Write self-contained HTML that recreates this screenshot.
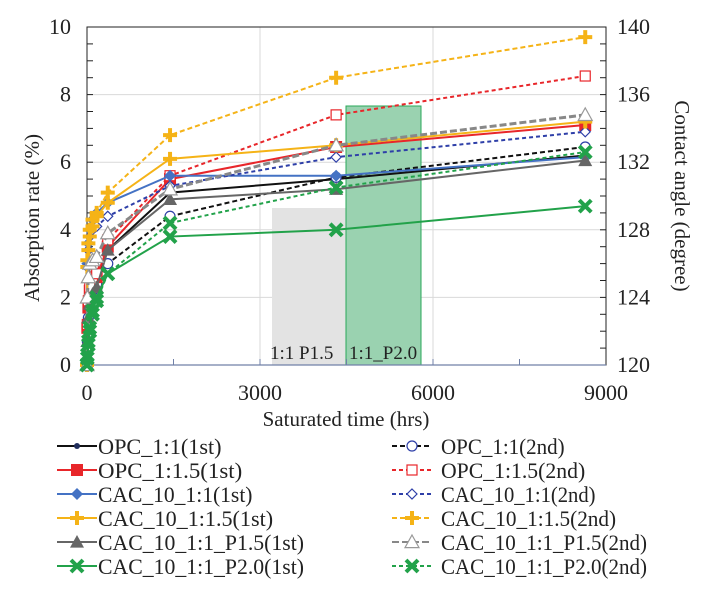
<!DOCTYPE html>
<html><head><meta charset="utf-8"><style>
html,body{margin:0;padding:0;background:#fff;width:718px;height:600px;overflow:hidden}
svg text{font-family:"Liberation Serif",serif;fill:#222}
</style></head><body>
<svg id="s" width="718" height="600" xmlns="http://www.w3.org/2000/svg"></svg>
<script>
const S=document.getElementById('s');let h='';
const X0=87,X1=606,Y0=365,Y1=27;
const X=t=>X0+(t/9000)*(X1-X0), Y=v=>Y0-(v/10)*(Y0-Y1);
for(let v=2;v<=10;v+=2)h+=`<line x1="${X0}" x2="${X1}" y1="${Y(v)}" y2="${Y(v)}" stroke="#d9d9d9" stroke-width="1"/>`;
for(let t=3000;t<9000;t+=3000)h+=`<line x1="${X(t)}" x2="${X(t)}" y1="${Y1}" y2="${Y0}" stroke="#d9d9d9" stroke-width="1"/>`;
h+=`<rect x="272" y="208" width="74" height="${Y0-208}" fill="#e3e3e3"/>`;
h+=`<rect x="346" y="106" width="75" height="${Y0-106}" fill="#9ad2b0" stroke="#2aa85a" stroke-width="1"/>`;
h+=`<text x="270" y="359" font-size="19">1:1  P1.5</text><text x="349" y="359" font-size="19">1:1_P2.0</text>`;
h+=`<rect x="${X0}" y="${Y1}" width="${X1-X0}" height="${Y0-Y1}" fill="none" stroke="#222" stroke-width="1"/>`;
h+=`<line x1="${X0}" x2="${X1}" y1="${Y0}" y2="${Y0}" stroke="#7080a8" stroke-width="1.3"/>`;
for(let v=0.5;v<10;v+=0.5)h+=`<line x1="${X0}" x2="${X0+6}" y1="${Y(v)}" y2="${Y(v)}" stroke="#222"/>`;
for(let d=1;d<20;d++){let y=Y0-d*(Y0-Y1)/20;h+=`<line x1="${X1-6}" x2="${X1}" y1="${y}" y2="${y}" stroke="#222"/>`;}
for(let t=1500;t<9000;t+=1500)h+=`<line x1="${X(t)}" x2="${X(t)}" y1="${Y0}" y2="${Y0-6}" stroke="#7080a8"/>`;
for(let v=0;v<=10;v+=2)h+=`<text x="71" y="${Y(v)+7}" font-size="22" text-anchor="end">${v}</text>`;
for(let i=0;i<=5;i++){let y=Y0-i*(Y0-Y1)/5;h+=`<text x="617" y="${y+7}" font-size="22">${120+4*i}</text>`;}
[0,3000,6000,9000].forEach(t=>h+=`<text x="${X(t)}" y="400" font-size="22" text-anchor="middle">${t}</text>`);
h+=`<text x="346" y="426" font-size="21" text-anchor="middle">Saturated time (hrs)</text>`;
h+=`<text transform="translate(39,218) rotate(-90)" font-size="21" text-anchor="middle">Absorption rate (%)</text>`;
h+=`<text transform="translate(675,196) rotate(90)" font-size="21" text-anchor="middle">Contact angle (degree)</text>`;
const T=[0,6,24,48,96,168,360,1440,4320,8640];
const ser=[
['OPC_1:1(1st)','#111','','circle',[0,0.8,1.6,2.1,2.4,2.6,3.4,5.1,5.5,6.2]],
['OPC_1:1(2nd)','#111','5,3','ocircle',[0,0.7,1.4,1.9,2.2,2.4,3.0,4.4,5.55,6.45]],
['OPC_1:1.5(1st)','#e8262a','','square',[0,1.1,1.7,2.2,2.5,2.6,3.5,5.5,6.45,7.1]],
['OPC_1:1.5(2nd)','#e8262a','4,3','osquare',[0,1.2,1.9,2.3,2.6,2.7,3.7,5.6,7.4,8.55]],
['CAC_10_1:1(1st)','#4472c4','','diamond',[0,3.0,3.6,4.0,4.3,4.5,4.8,5.6,5.6,6.15]],
['CAC_10_1:1(2nd)','#2e3fa8','4,3','odiamond',[0,2.9,3.4,3.8,4.0,4.1,4.4,5.3,6.15,6.9]],
['CAC_10_1:1.5(1st)','#f5b317','','plus',[0,2.9,3.4,3.8,4.1,4.4,4.8,6.1,6.5,7.2]],
['CAC_10_1:1.5(2nd)','#f5b317','5,3','plus',[0,3.1,3.6,4.0,4.3,4.5,5.1,6.8,8.5,9.7]],
['CAC_10_1:1_P1.5(1st)','#666','','tri',[0,0.7,1.4,1.8,2.1,2.3,3.4,4.9,5.2,6.05]],
['CAC_10_1:1_P1.5(2nd)','#888','7,3','otri',[0,2.0,2.6,3.0,3.1,3.2,3.9,5.2,6.5,7.4]],
['CAC_10_1:1_P2.0(1st)','#22a24a','','x',[0,0.3,0.7,1.1,1.6,2.0,2.7,3.8,4.0,4.7]],
['CAC_10_1:1_P2.0(2nd)','#22a24a','4,3','x',[0,0.2,0.6,1.0,1.5,1.9,2.7,4.2,5.25,6.3]]];
function mk(m,x,y,c,sc){sc=sc||1;let r;switch(m){
case'circle':return`<circle cx="${x}" cy="${y}" r="${3*sc}" fill="#1f2d5c"/>`;
case'ocircle':return`<circle cx="${x}" cy="${y}" r="${5*sc}" fill="#fff" stroke="#2e3fa8" stroke-width="1.2"/>`;
case'square':r=6*sc;return`<rect x="${x-r}" y="${y-r}" width="${2*r}" height="${2*r}" fill="${c}"/>`;
case'osquare':r=5*sc;return`<rect x="${x-r}" y="${y-r}" width="${2*r}" height="${2*r}" fill="#fff" stroke="${c}" stroke-width="1.2"/>`;
case'diamond':r=6*sc;return`<path d="M${x} ${y-r}L${x+r} ${y}L${x} ${y+r}L${x-r} ${y}Z" fill="${c}"/>`;
case'odiamond':r=5*sc;return`<path d="M${x} ${y-r}L${x+r} ${y}L${x} ${y+r}L${x-r} ${y}Z" fill="#fff" stroke="${c}" stroke-width="1.2"/>`;
case'plus':r=7*sc;return`<path d="M${x-r} ${y}H${x+r}M${x} ${y-r}V${y+r}" stroke="${c}" stroke-width="${4*sc}"/>`;
case'tri':r=7*sc;return`<path d="M${x} ${y-r}L${x+r} ${y+r*0.8}L${x-r} ${y+r*0.8}Z" fill="${c}"/>`;
case'otri':r=7*sc;return`<path d="M${x} ${y-r}L${x+r} ${y+r*0.8}L${x-r} ${y+r*0.8}Z" fill="#fff" stroke="#999" stroke-width="1.2"/>`;
case'x':r=6*sc;return`<path d="M${x-r} ${y-r}L${x+r} ${y+r}M${x+r} ${y-r}L${x-r} ${y+r}" stroke="${c}" stroke-width="${4*sc}"/>`;}}
ser.forEach(s=>{let p=T.map((t,i)=>X(t)+','+Y(s[4][i])).join(' ');
h+=`<polyline points="${p}" fill="none" stroke="${s[1]}" stroke-width="${s[3]=='otri'?3:2}" ${s[2]?`stroke-dasharray="${s[2]}"`:''}/>`;
T.forEach((t,i)=>h+=mk(s[3],X(t),Y(s[4][i]),s[1]));});
const ry=[446,470,494,518,542,566];
ser.forEach((s,i)=>{let col=i%2,row=(i-col)/2;let lx=col?392:57,tx=col?441:98,y=ry[row];
h+=`<line x1="${lx}" x2="${lx+40}" y1="${y}" y2="${y}" stroke="${s[1]}" stroke-width="2" ${s[2]?`stroke-dasharray="${s[2]}"`:''}/>`;
h+=mk(s[3],lx+20,y,s[1]);
h+=`<text x="${tx}" y="${y+8}" font-size="22" textLength="${s[0].length*10.3}" lengthAdjust="spacingAndGlyphs">${s[0]}</text>`;});
S.innerHTML=h;
</script>
</body></html>
